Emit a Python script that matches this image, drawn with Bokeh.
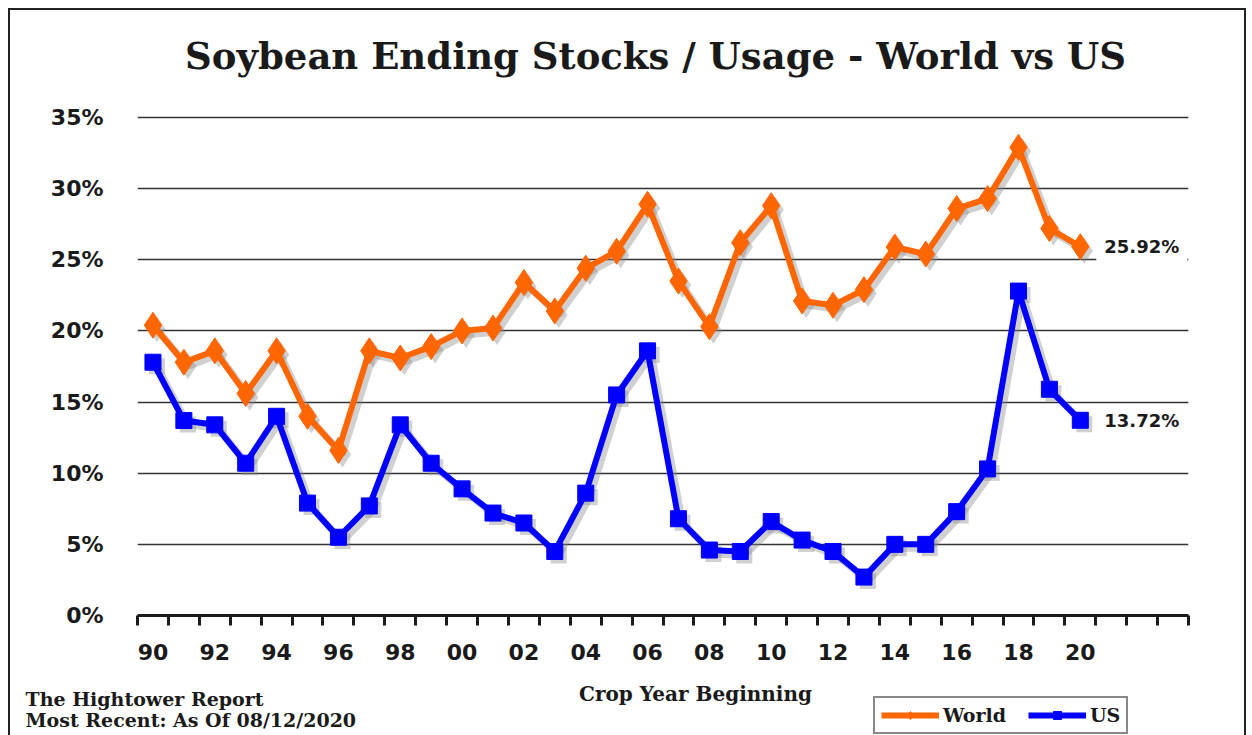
from bokeh.plotting import figure
from bokeh.layouts import column
from bokeh.models import (ColumnDataSource, Range1d, FixedTicker, Label, Legend,
                          LegendItem)
from bokeh.transform import dodge
from bokeh.embed import file_html
from bokeh.resources import INLINE

# ---- data ----
years = list(range(90, 121))  # crop years 1990..2020
world = [20.4, 17.8, 18.6, 15.6, 18.6, 14.0, 11.6, 18.6, 18.1, 18.9, 20.0,
         20.2, 23.4, 21.4, 24.4, 25.6, 28.9, 23.5, 20.3, 26.2, 28.8, 22.1,
         21.8, 22.9, 25.9, 25.4, 28.6, 29.3, 32.9, 27.2, 25.92]
us = [17.8, 13.7, 13.4, 10.7, 14.0, 7.9, 5.5, 7.7, 13.4, 10.7, 8.9,
      7.2, 6.5, 4.5, 8.6, 15.5, 18.6, 6.8, 4.6, 4.5, 6.6, 5.3,
      4.5, 2.7, 5.0, 5.0, 7.3, 10.3, 22.8, 15.9, 13.72]
x_tick_years = list(range(90, 121, 2))
x_tick_labels = ["90", "92", "94", "96", "98", "00", "02", "04", "06", "08",
                 "10", "12", "14", "16", "18", "20"]
y_ticks = [0, 5, 10, 15, 20, 25, 30, 35]
y_tick_labels = ["0%", "5%", "10%", "15%", "20%", "25%", "30%", "35%"]

title_text = "Soybean Ending Stocks / Usage - World vs US"
x_title = "Crop Year Beginning"
footer1 = "The Hightower Report"
footer2 = "Most Recent: As Of 08/12/2020"

SERIF = "DejaVu Serif"
SANS = "DejaVu Sans"
INK = "#1a1a1a"

W = 1234
H_TOP, H_MAIN, H_BOT = 80, 585, 60

src = ColumnDataSource(dict(x=years, world=world, us=us))


def strip(h):
    f = figure(width=W, height=h, output_backend="svg", toolbar_location=None,
               x_range=Range1d(0, 1), y_range=Range1d(0, 1), title=None,
               x_axis_location=None, y_axis_location=None, frame_align=False,
               min_border=0, min_border_left=0, min_border_right=0,
               min_border_top=0, min_border_bottom=0)
    f.outline_line_color = None
    f.xgrid.visible = False
    f.ygrid.visible = False
    f.background_fill_color = "white"
    f.border_fill_color = "white"
    return f


# ---- top strip: title ----
top = strip(H_TOP)
top.add_layout(Label(x=645, y=H_TOP - 45, x_units="screen", y_units="screen",
                     text=title_text, text_align="center", text_baseline="middle",
                     text_font=SERIF, text_font_style="bold", text_font_size="37px",
                     text_color=INK))

# ---- main chart ----
p = figure(width=W, height=H_MAIN, output_backend="svg", toolbar_location=None,
           x_range=Range1d(89.5, 123.5), y_range=Range1d(0, 35.28), title=None,
           frame_align=False,
           min_border_left=127, min_border_right=56,
           min_border_top=23, min_border_bottom=60)
p.outline_line_color = None
p.background_fill_color = "white"
p.border_fill_color = "white"

xa = p.xaxis[0]
bounds = [y - 0.5 for y in range(90, 125)]
xa.ticker = FixedTicker(ticks=x_tick_years, minor_ticks=bounds)
xa.major_label_overrides = {t: l for t, l in zip(x_tick_years, x_tick_labels)}
xa.axis_line_width = 3
xa.axis_line_color = INK
xa.major_tick_out = 0
xa.major_tick_in = 0
xa.minor_tick_out = 10
xa.minor_tick_in = 0
xa.minor_tick_line_width = 3
xa.minor_tick_line_color = INK
xa.major_label_standoff = 18
xa.major_label_text_font = SANS
xa.major_label_text_font_style = "bold"
xa.major_label_text_font_size = "22px"
xa.major_label_text_color = INK

ya = p.yaxis[0]
ya.ticker = FixedTicker(ticks=y_ticks)
ya.major_label_overrides = {t: l for t, l in zip(y_ticks, y_tick_labels)}
ya.axis_line_color = None
ya.major_tick_line_color = None
ya.major_tick_out = 0
ya.major_tick_in = 0
ya.minor_tick_line_color = None
ya.minor_tick_out = 0
ya.major_label_standoff = 34
ya.major_label_text_font = SANS
ya.major_label_text_font_style = "bold"
ya.major_label_text_font_size = "22px"
ya.major_label_text_color = INK

p.xgrid.grid_line_color = None
p.ygrid.ticker = FixedTicker(ticks=y_ticks)
p.ygrid.grid_line_color = "#333333"
p.ygrid.grid_line_width = 1.5

# soft drop shadows
for col, mk, sz in (("world", "diamond", 26), ("us", "square", 16)):
    p.line(dodge("x", 0.13), dodge(col, -0.28), source=src, line_color="#8a8a8a",
           line_alpha=0.4, line_width=7)
    p.scatter(dodge("x", 0.13), dodge(col, -0.28), source=src, marker=mk, size=sz,
              fill_color="#8a8a8a", fill_alpha=0.4, line_color=None)

p.line("x", "world", source=src, line_color="#FF6600", line_width=6)
p.scatter("x", "world", source=src, marker="diamond", size=26,
          fill_color="#FF6600", line_color="#FF6600")
p.line("x", "us", source=src, line_color="#0000FF", line_width=6)
p.scatter("x", "us", source=src, marker="square", size=16,
          fill_color="#0000FF", line_color="#0000FF")

p.add_layout(Label(x=years[-1], y=world[-1], text=f"{world[-1]:.2f}%", x_offset=16,
                   text_baseline="middle", text_font=SANS, text_font_style="bold",
                   text_font_size="18px", text_color=INK,
                   background_fill_color="white", padding=8))
p.add_layout(Label(x=years[-1], y=us[-1], text=f"{us[-1]:.2f}%", x_offset=24,
                   text_baseline="middle", text_font=SANS, text_font_style="bold",
                   text_font_size="18px", text_color=INK))

# ---- bottom strip: axis title, source, legend ----
bot = strip(H_BOT)
bot.add_layout(Label(x=685, y=H_BOT - 18, x_units="screen", y_units="screen",
                     text=x_title, text_align="center", text_baseline="middle",
                     text_font=SERIF, text_font_style="bold", text_font_size="20px",
                     text_color=INK))
bot.add_layout(Label(x=15, y=H_BOT - 23, x_units="screen", y_units="screen",
                     text=footer1, text_align="left", text_baseline="middle",
                     text_font=SERIF, text_font_style="bold", text_font_size="19px",
                     text_color=INK))
bot.add_layout(Label(x=15, y=H_BOT - 44, x_units="screen", y_units="screen",
                     text=footer2, text_align="left", text_baseline="middle",
                     text_font=SERIF, text_font_style="bold", text_font_size="19px",
                     text_color=INK))

# legend proxies (same series, outside this strip's visible range)
lw = bot.line("x", "world", source=src, line_color="#FF6600", line_width=6)
sw = bot.scatter("x", "world", source=src, marker="diamond", size=26,
                 fill_color="#FF6600", line_color="#FF6600")
lu = bot.line("x", "us", source=src, line_color="#0000FF", line_width=6)
su = bot.scatter("x", "us", source=src, marker="square", size=16,
                 fill_color="#0000FF", line_color="#0000FF")
legend = Legend(items=[LegendItem(label="World", renderers=[lw, sw]),
                       LegendItem(label="US", renderers=[lu, su])],
                location=(863, 1), orientation="horizontal",
                glyph_width=58, glyph_height=20, label_height=20, label_standoff=4,
                spacing=22, padding=6, margin=0,
                label_text_font=SERIF, label_text_font_style="bold",
                label_text_font_size="19px", label_text_color=INK,
                border_line_color="#111111", border_line_width=2.5,
                background_fill_color="white", background_fill_alpha=1)
bot.add_layout(legend, "center")

page = column(top, p, bot, spacing=0,
              styles={"margin-left": "8px", "margin-top": "8px",
                      "border-left": "2px solid #222", "border-top": "2px solid #222",
                      "border-right": "2px solid #222"})

open("out.html", "w").write(file_html(page, INLINE))
